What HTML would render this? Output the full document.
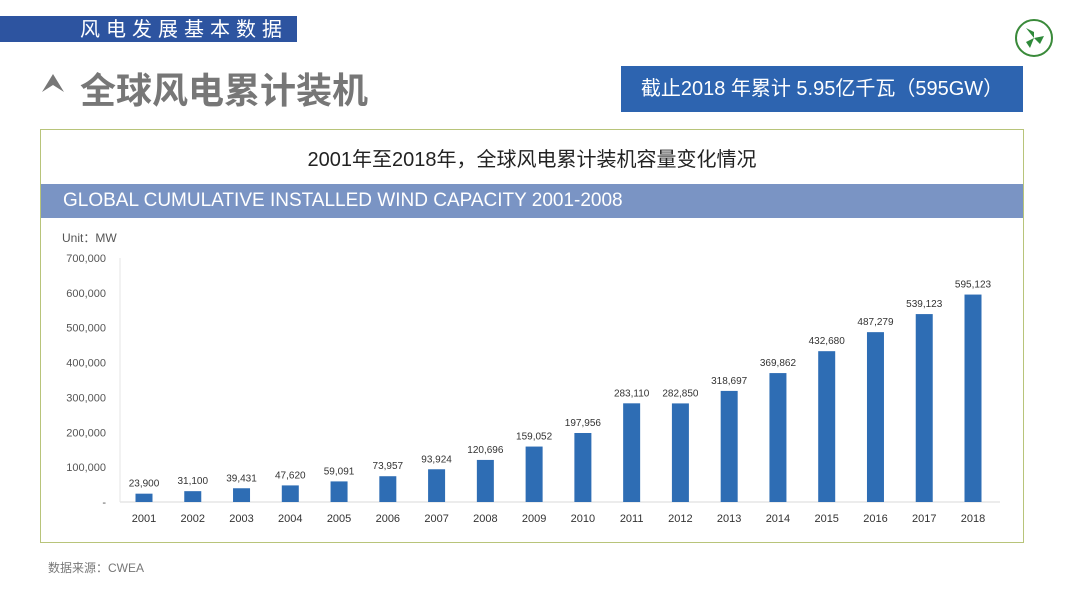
<!DOCTYPE html>
<html><head><meta charset="utf-8">
<style>
body{margin:0;width:1080px;height:608px;background:#fff;position:relative;overflow:hidden;font-family:"Liberation Sans","Noto Sans CJK SC",sans-serif;}
.abs{position:absolute;}
</style></head><body>
<div class="abs" style="left:0;top:16px;width:297px;height:26px;background:#2d54a0;"></div>
<div class="abs" style="left:80px;top:17px;color:#fff;font-size:20px;letter-spacing:6px;line-height:26px;">风电发展基本数据</div>
<svg class="abs" style="left:1012px;top:18px" width="44" height="40"><circle cx="22" cy="20" r="18" fill="#fff" stroke="#3a8a3a" stroke-width="2"/><path d="M22 20 L14 10 L22 14Z M22 20 L32 18 L28 26Z M22 20 L18 30 L14 24Z" fill="#2f8a3a"/></svg>
<svg class="abs" style="left:40px;top:72px" width="26" height="22"><path d="M13 2 L24 20 L13 13 L2 20Z" fill="#777"/></svg>
<div class="abs" style="left:80px;top:62px;font-size:36px;color:#777;font-weight:bold;">全球风电累计装机</div>
<div class="abs" style="left:621px;top:66px;width:402px;height:46px;background:#2d64b0;color:#fff;font-size:20px;line-height:46px;text-align:center;">截止2018 年累计 5.95亿千瓦（595GW）</div>
<div class="abs" style="left:40px;top:129px;width:982px;height:412px;border:1px solid #b8c47a;"></div>
<div class="abs" style="left:40px;top:143px;width:984px;text-align:center;font-size:20px;color:#222;">2001年至2018年，全球风电累计装机容量变化情况</div>
<div class="abs" style="left:41px;top:184px;width:982px;height:34px;background:#7a94c4;"></div>
<div class="abs" style="left:63px;top:184px;line-height:34px;color:#fff;font-size:19px;">GLOBAL CUMULATIVE INSTALLED WIND CAPACITY 2001-2008</div>
<div class="abs" style="left:62px;top:229px;font-size:12px;color:#555;">Unit：MW</div>
<div class="abs" style="left:48px;top:559px;font-size:12px;color:#777;">数据来源：CWEA</div>
<svg id="chart" class="abs" style="left:0;top:0" width="1080" height="608"></svg>
<script>
const years=["2001","2002","2003","2004","2005","2006","2007","2008","2009","2010","2011","2012","2013","2014","2015","2016","2017","2018"];
const values=[23900,31100,39431,47620,59091,73957,93924,120696,159052,197956,283110,282850,318697,369862,432680,487279,539123,595123];
const valueLabels=["23,900","31,100","39,431","47,620","59,091","73,957","93,924","120,696","159,052","197,956","283,110","282,850","318,697","369,862","432,680","487,279","539,123","595,123"];
const yTicks=[0,100000,200000,300000,400000,500000,600000,700000];
const yTickLabels=["-","100,000","200,000","300,000","400,000","500,000","600,000","700,000"];
const svg=document.getElementById('chart');const NS='http://www.w3.org/2000/svg';
const y0=502,y1=258,maxV=700000,x0=144,step=(973-144)/17,bw=17;
const Y=v=>y0-(v/maxV)*(y0-y1);const X=i=>x0+i*step;
function mk(t,a,txt){const e=document.createElementNS(NS,t);for(const k in a)e.setAttribute(k,a[k]);if(txt!==undefined)e.textContent=txt;svg.appendChild(e);return e;}
let ax=mk('line',{x1:120,y1:y0,x2:1000,y2:y0,stroke:'#d9d9d9'});


let ay=mk('line',{x1:120,y1:y1,x2:120,y2:y0,stroke:'#e6e6e6'});


yTicks.forEach((v,i)=>{const t=mk('text',{x:106,y:Y(v)+4,'text-anchor':'end','font-size':11,fill:'#555','font-family':'Liberation Sans'},yTickLabels[i]);

});
years.forEach((yr,i)=>{
const r=mk('rect',{x:X(i)-bw/2,y:Y(values[i]),width:bw,height:y0-Y(values[i]),fill:'#2e6db4'});


const l=mk('text',{x:X(i),y:Y(values[i])-7,'text-anchor':'middle','font-size':10,fill:'#333','font-family':'Liberation Sans'},valueLabels[i]);


const c=mk('text',{x:X(i),y:522,'text-anchor':'middle','font-size':11,fill:'#333','font-family':'Liberation Sans'},yr);


});
</script>
</body></html>
